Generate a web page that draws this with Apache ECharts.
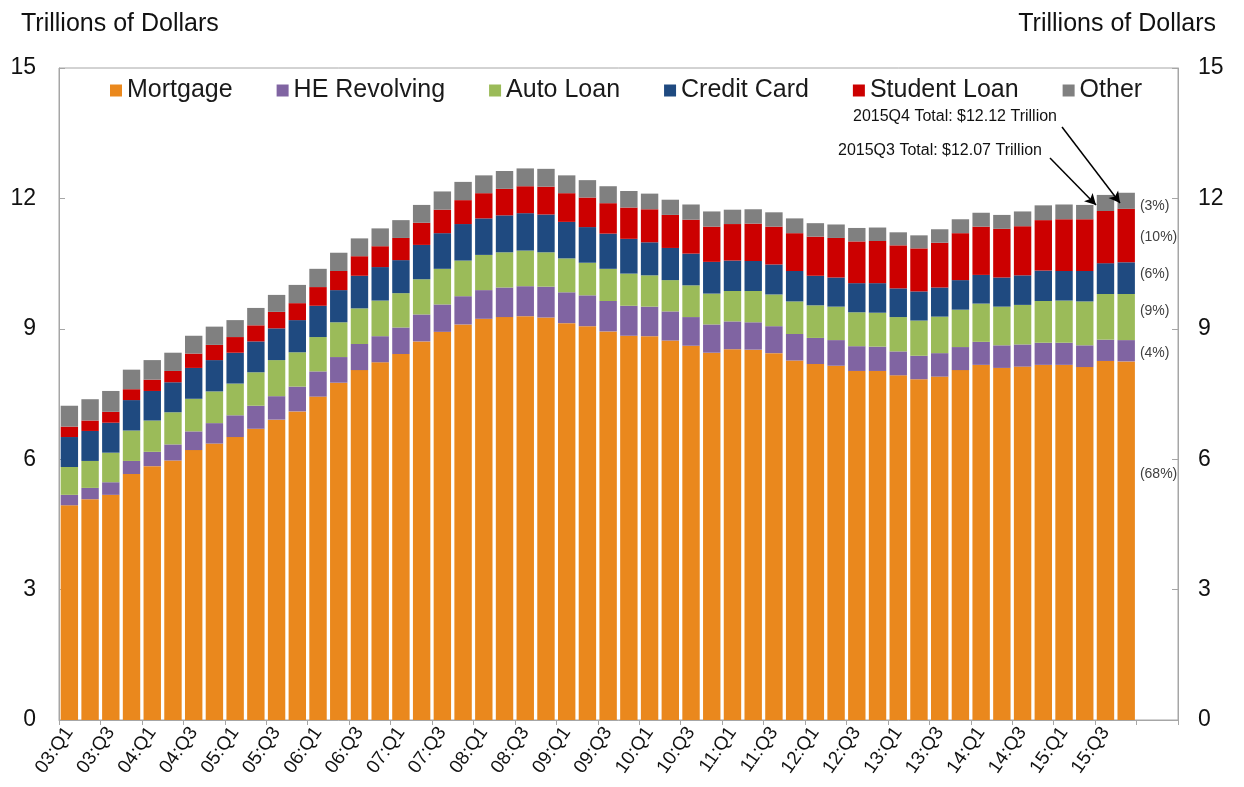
<!DOCTYPE html>
<html><head><meta charset="utf-8">
<script src="https://cdn.jsdelivr.net/npm/echarts@6/dist/echarts.min.js"></script>
<style>html,body{margin:0;padding:0;background:#fff}#c{width:1244px;height:787px}</style>
</head><body><div id="c"></div>
<script>
const quarters = ['03:Q1','03:Q2','03:Q3','03:Q4','04:Q1','04:Q2','04:Q3','04:Q4','05:Q1','05:Q2','05:Q3','05:Q4',
 '06:Q1','06:Q2','06:Q3','06:Q4','07:Q1','07:Q2','07:Q3','07:Q4','08:Q1','08:Q2','08:Q3','08:Q4',
 '09:Q1','09:Q2','09:Q3','09:Q4','10:Q1','10:Q2','10:Q3','10:Q4','11:Q1','11:Q2','11:Q3','11:Q4',
 '12:Q1','12:Q2','12:Q3','12:Q4','13:Q1','13:Q2','13:Q3','13:Q4','14:Q1','14:Q2','14:Q3','14:Q4',
 '15:Q1','15:Q2','15:Q3','15:Q4','',''];
const mortgage = [4.94,5.08,5.18,5.66, 5.84,5.97,6.21,6.36, 6.51,6.70,6.91,7.10, 7.44,7.76,8.05,8.23, 8.42,8.71,8.93,9.10, 9.23,9.27,9.29,9.26, 9.13,9.06,8.94,8.84, 8.83,8.73,8.61,8.45, 8.53,8.52,8.44,8.27, 8.19,8.15,8.03,8.03, 7.93,7.84,7.90,8.05, 8.17,8.10,8.13,8.17, 8.17,8.12,8.26,8.25];
const heRevolving = [0.24,0.26,0.29,0.30, 0.33,0.37,0.43,0.47, 0.50,0.53,0.54,0.57, 0.58,0.59,0.60,0.60, 0.61,0.62,0.63,0.65, 0.66,0.68,0.69,0.71, 0.71,0.71,0.70,0.69, 0.68,0.67,0.66,0.65, 0.64,0.63,0.62,0.61, 0.60,0.59,0.57,0.56, 0.55,0.54,0.54,0.53, 0.53,0.52,0.51,0.51, 0.51,0.50,0.49,0.49];
const autoLoan = [0.64,0.62,0.68,0.70, 0.72,0.74,0.75,0.73, 0.73,0.77,0.83,0.79, 0.79,0.80,0.82,0.82, 0.79,0.81,0.82,0.82, 0.81,0.81,0.82,0.79, 0.78,0.75,0.74,0.74, 0.72,0.72,0.73,0.71, 0.70,0.72,0.73,0.75, 0.75,0.77,0.78,0.78, 0.79,0.81,0.84,0.86, 0.88,0.89,0.91,0.96, 0.97,1.01,1.05,1.06];
const creditCard = [0.69,0.69,0.69,0.70, 0.68,0.69,0.71,0.72, 0.71,0.71,0.73,0.74, 0.72,0.74,0.75,0.77, 0.76,0.79,0.82,0.84, 0.84,0.85,0.86,0.87, 0.84,0.82,0.81,0.80, 0.76,0.74,0.73,0.73, 0.70,0.69,0.69,0.70, 0.68,0.67,0.67,0.68, 0.66,0.67,0.67,0.68, 0.66,0.67,0.68,0.70, 0.68,0.70,0.71,0.73];
const studentLoan = [0.24,0.24,0.25,0.25, 0.26,0.26,0.33,0.35, 0.36,0.37,0.38,0.39, 0.43,0.44,0.45,0.48, 0.51,0.51,0.54,0.55, 0.58,0.61,0.62,0.64, 0.66,0.68,0.70,0.72, 0.76,0.76,0.78,0.81, 0.84,0.86,0.87,0.87, 0.90,0.91,0.96,0.97, 0.99,0.99,1.03,1.08, 1.11,1.12,1.13,1.16, 1.19,1.19,1.20,1.23];
const other = [0.48,0.49,0.48,0.45, 0.45,0.42,0.41,0.42, 0.39,0.40,0.39,0.42, 0.42,0.42,0.41,0.41, 0.41,0.41,0.42,0.42, 0.41,0.41,0.41,0.41, 0.41,0.40,0.39,0.38, 0.36,0.35,0.35,0.35, 0.33,0.33,0.33,0.34, 0.31,0.31,0.31,0.31, 0.30,0.30,0.31,0.32, 0.32,0.32,0.34,0.34, 0.34,0.33,0.37,0.37];
const yTicks = [0,3,6,9,12,15];
const seriesNames = ['Mortgage','HE Revolving','Auto Loan','Credit Card','Student Loan','Other'];
const seriesData = [mortgage, heRevolving, autoLoan, creditCard, studentLoan, other];
const colors = ['#EA881D','#8064A2','#9BBB59','#1F4A80','#CC0000','#808080'];
const annotations = ['2015Q4 Total: $12.12 Trillion','2015Q3 Total: $12.07 Trillion'];

const FONT = "'Liberation Sans', Arial, sans-serif";
const last = mortgage.length - 1;
const lastTotal = seriesData.reduce((s, arr) => s + arr[last], 0);
const pctOffsets = [[0,-67],[0,2],[0,-6],[0,-4],[0,2],[0,5]];

const series = seriesNames.map((name, i) => {
  const data = seriesData[i].map((v, j) => {
    if (j !== last) return v;
    return {
      value: v,
      label: {
        show: true, position: 'right', distance: 5, offset: pctOffsets[i],
        formatter: '(' + Math.round(v / lastTotal * 100) + '%)',
        fontFamily: FONT, fontSize: 14, color: '#404040'
      }
    };
  });
  const s = {
    name, type: 'bar', stack: 'debt', data, barCategoryGap: '16%',
    itemStyle: { color: colors[i] }, emphasis: { disabled: true }, animation: false
  };
  if (i === seriesNames.length - 1) {
    s.markLine = {
      silent: true, animation: false,
      symbol: ['none', 'arrow'], symbolSize: [9, 11],
      lineStyle: { color: '#000', width: 1.5, type: 'solid' },
      label: { show: false },
      data: [
        [{ x: 1062, y: 127 }, { x: 1120, y: 203 }],
        [{ x: 1050, y: 158 }, { x: 1096, y: 205 }]
      ]
    };
  }
  return s;
});

const yAxisCommon = {
  type: 'value', min: 0, max: 15, interval: 3,
  axisLine: { show: true, lineStyle: { color: '#A6A6A6', width: 1 } },
  axisTick: { show: true, inside: true, length: 6, lineStyle: { color: '#A6A6A6' } },
  splitLine: { show: false },
  axisLabel: { fontFamily: FONT, fontSize: 23, color: '#111', margin: 23,
    formatter: v => yTicks.includes(v) ? String(v) : '' }
};

const chart = echarts.init(document.getElementById('c'), null, { renderer: 'canvas' });
chart.setOption({
  animation: false,
  backgroundColor: '#fff',
  grid: { left: 59, right: 66, top: 68, bottom: 67, show: true, borderColor: '#A6A6A6', borderWidth: 1, containLabel: false },
  legend: {
    data: seriesNames, left: 105, top: 73, icon: 'rect', itemWidth: 12, itemHeight: 12, itemGap: 44,
    textStyle: { fontFamily: FONT, fontSize: 25, color: '#1a1a1a' }, selectedMode: false
  },
  xAxis: {
    type: 'category', data: quarters, boundaryGap: true,
    axisLine: { show: true, lineStyle: { color: '#A6A6A6' } },
    axisTick: { show: true, interval: 1, length: 5, lineStyle: { color: '#A6A6A6' } },
    axisLabel: { interval: 1, rotate: 55, fontFamily: FONT, fontSize: 19, color: '#111', margin: 9 }
  },
  yAxis: [
    Object.assign({}, yAxisCommon, { position: 'left' }),
    Object.assign({}, yAxisCommon, { position: 'right', axisLabel: Object.assign({}, yAxisCommon.axisLabel, { margin: 20 }) })
  ],
  graphic: [
    { type: 'text', left: 21, top: 12, style: { text: 'Trillions of Dollars', font: '25px ' + FONT, fill: '#111' } },
    { type: 'text', right: 28, top: 12, style: { text: 'Trillions of Dollars', font: '25px ' + FONT, fill: '#111' } },
    { type: 'text', left: 853, top: 109, style: { text: annotations[0], font: '16px ' + FONT, fill: '#111' } },
    { type: 'text', left: 838, top: 143, style: { text: annotations[1], font: '16px ' + FONT, fill: '#111' } }
  ],
  series
});
</script></body></html>
